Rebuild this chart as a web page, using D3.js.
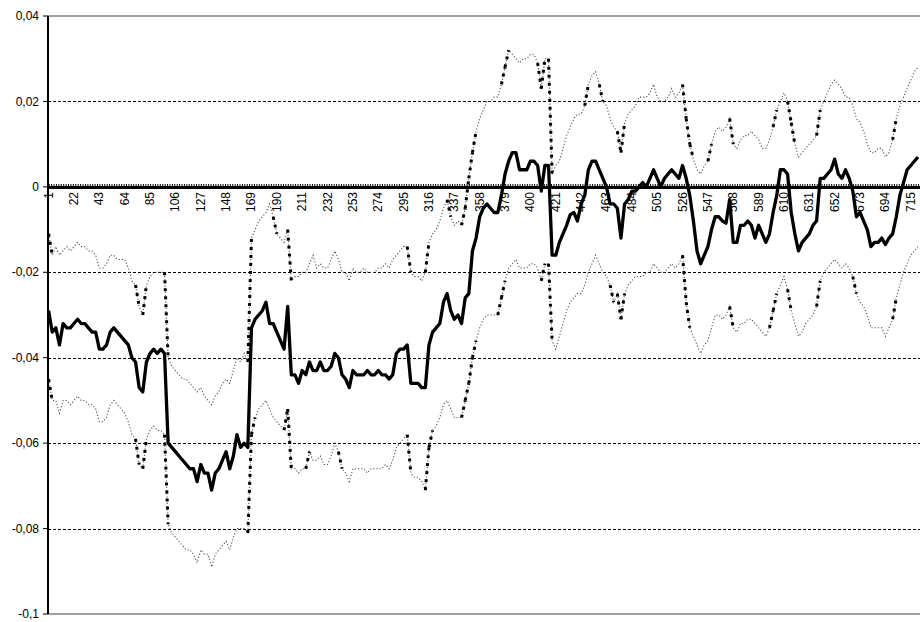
<!DOCTYPE html>
<html>
<head>
<meta charset="utf-8">
<script src="https://cdn.jsdelivr.net/npm/d3@7"></script>
<style>
  body { margin: 0; background: #fff; }
  svg { display: block; font-family: "Liberation Sans", Arial, sans-serif; }
</style>
</head>
<body>
<svg id="chart" width="920" height="622"></svg>
<script>
// Line chart: central estimate (thick) with upper/lower band (dotted).

const N_CATEGORIES = 722;
const obsIndex = d3.range(1, N_CATEGORIES, 3); // 1, 4, 7, ... 721

const mid = [
  -0.029, -0.034, -0.033, -0.037, -0.032, -0.033, -0.033, -0.032, -0.031, -0.032,
  -0.032, -0.033, -0.034, -0.034, -0.038, -0.038, -0.037, -0.034, -0.033, -0.034,
  -0.035, -0.036, -0.037, -0.040, -0.041, -0.047, -0.048, -0.041, -0.039, -0.038,
  -0.039, -0.038, -0.039, -0.060, -0.061, -0.062, -0.063, -0.064, -0.065, -0.066,
  -0.066, -0.069, -0.065, -0.067, -0.067, -0.071, -0.067, -0.066, -0.064, -0.062,
  -0.066, -0.063, -0.058, -0.061, -0.060, -0.061, -0.033, -0.031, -0.030, -0.029,
  -0.027, -0.032, -0.032, -0.034, -0.036, -0.038, -0.028, -0.044, -0.044, -0.046,
  -0.043, -0.044, -0.041, -0.043, -0.043, -0.041, -0.043, -0.043, -0.042, -0.039,
  -0.040, -0.044, -0.045, -0.047, -0.043, -0.044, -0.044, -0.044, -0.043, -0.044,
  -0.044, -0.043, -0.044, -0.044, -0.045, -0.044, -0.039, -0.038, -0.038, -0.037,
  -0.046, -0.046, -0.046, -0.047, -0.047, -0.037, -0.034, -0.033, -0.032, -0.027,
  -0.025, -0.029, -0.031, -0.030, -0.032, -0.026, -0.025, -0.015, -0.012, -0.007,
  -0.005, -0.004, -0.005, -0.006, -0.006, -0.002, 0.003, 0.006, 0.008, 0.008,
  0.004, 0.004, 0.004, 0.006, 0.006, 0.005, -0.001, 0.005, 0.005, -0.016,
  -0.016, -0.013, -0.011, -0.009, -0.0065, -0.006, -0.008, -0.004, -0.002, 0.004,
  0.006, 0.006, 0.004, 0.002, 0.000, -0.004, -0.004, -0.005, -0.012, -0.004,
  -0.003, -0.001, -0.001, 0.000, 0.001, 0.000, 0.002, 0.004, 0.002, 0.000,
  0.002, 0.003, 0.004, 0.003, 0.002, 0.005, 0.002, -0.002, -0.008, -0.015,
  -0.018, -0.016, -0.014, -0.010, -0.007, -0.007, -0.008, -0.0085, -0.003, -0.013,
  -0.013, -0.009, -0.009, -0.008, -0.009, -0.012, -0.009, -0.011, -0.013, -0.011,
  -0.006, -0.002, 0.004, 0.004, 0.003, -0.006, -0.011, -0.015, -0.013, -0.012,
  -0.011, -0.009, -0.008, 0.002, 0.002, 0.003, 0.004, 0.0065, 0.003, 0.002,
  0.004, 0.002, -0.001, -0.007, -0.006, -0.008, -0.010, -0.014, -0.013, -0.013,
  -0.012, -0.0135, -0.012, -0.011, -0.007, -0.002, 0.001, 0.004, 0.005, 0.006,
  0.007
];

const upper = [
  -0.011, -0.016, -0.014, -0.016, -0.015, -0.014, -0.015, -0.014, -0.013, -0.014,
  -0.014, -0.015, -0.015, -0.016, -0.019, -0.019, -0.018, -0.016, -0.016, -0.017,
  -0.017, -0.017, -0.019, -0.022, -0.023, -0.028, -0.030, -0.023, -0.021, -0.020,
  -0.020, -0.020, -0.020, -0.040, -0.042, -0.043, -0.044, -0.045, -0.045, -0.046,
  -0.047, -0.048, -0.047, -0.049, -0.050, -0.051, -0.049, -0.048, -0.046, -0.045,
  -0.046, -0.043, -0.040, -0.041, -0.039, -0.041, -0.012, -0.010, -0.008, -0.007,
  -0.006, -0.004, -0.007, -0.011, -0.012, -0.013, -0.010, -0.022, -0.021, -0.021,
  -0.020, -0.020, -0.018, -0.016, -0.019, -0.018, -0.019, -0.019, -0.017, -0.015,
  -0.017, -0.020, -0.020, -0.022, -0.019, -0.020, -0.020, -0.019, -0.020, -0.020,
  -0.020, -0.019, -0.019, -0.018, -0.019, -0.017, -0.016, -0.015, -0.014, -0.014,
  -0.020, -0.021, -0.021, -0.022, -0.020, -0.013, -0.011, -0.010, -0.008, -0.005,
  -0.003, -0.007, -0.009, -0.008, -0.009, -0.005, 0.002, 0.008, 0.013, 0.016,
  0.018, 0.020, 0.020, 0.021, 0.021, 0.024, 0.028, 0.032, 0.031, 0.030,
  0.029, 0.030, 0.030, 0.031, 0.031, 0.029, 0.023, 0.030, 0.030, 0.003,
  0.005, 0.006, 0.009, 0.012, 0.014, 0.016, 0.017, 0.017, 0.019, 0.024,
  0.026, 0.027, 0.024, 0.020, 0.019, 0.016, 0.014, 0.013, 0.008, 0.015,
  0.017, 0.018, 0.019, 0.021, 0.021, 0.021, 0.022, 0.024, 0.021, 0.020,
  0.020, 0.021, 0.023, 0.021, 0.022, 0.024, 0.016, 0.010, 0.0065, 0.004,
  0.003, 0.005, 0.006, 0.010, 0.013, 0.014, 0.013, 0.014, 0.016, 0.010,
  0.009, 0.011, 0.012, 0.012, 0.013, 0.012, 0.011, 0.009, 0.009, 0.011,
  0.014, 0.018, 0.020, 0.022, 0.020, 0.015, 0.010, 0.007, 0.008, 0.009,
  0.010, 0.011, 0.012, 0.018, 0.020, 0.022, 0.024, 0.025, 0.024, 0.023,
  0.021, 0.021, 0.019, 0.016, 0.015, 0.013, 0.010, 0.008, 0.008, 0.009,
  0.009, 0.007, 0.008, 0.011, 0.016, 0.019, 0.021, 0.023, 0.025, 0.027,
  0.028
];

const lower = [
  -0.045, -0.050, -0.050, -0.053, -0.050, -0.050, -0.051, -0.050, -0.049, -0.050,
  -0.050, -0.051, -0.051, -0.052, -0.055, -0.055, -0.054, -0.051, -0.050, -0.051,
  -0.052, -0.053, -0.055, -0.058, -0.059, -0.065, -0.066, -0.059, -0.057, -0.056,
  -0.057, -0.057, -0.058, -0.079, -0.081, -0.082, -0.083, -0.084, -0.085, -0.085,
  -0.086, -0.088, -0.085, -0.086, -0.086, -0.089, -0.086, -0.085, -0.084, -0.083,
  -0.085, -0.082, -0.080, -0.080, -0.080, -0.081, -0.058, -0.054, -0.052, -0.051,
  -0.050, -0.052, -0.054, -0.055, -0.056, -0.057, -0.052, -0.066, -0.066, -0.067,
  -0.066, -0.066, -0.062, -0.064, -0.064, -0.063, -0.065, -0.065, -0.063, -0.060,
  -0.062, -0.066, -0.067, -0.069, -0.066, -0.066, -0.066, -0.066, -0.067, -0.066,
  -0.066, -0.066, -0.066, -0.065, -0.066, -0.064, -0.061, -0.060, -0.059, -0.058,
  -0.067, -0.068, -0.068, -0.069, -0.071, -0.061, -0.057, -0.056, -0.054, -0.051,
  -0.050, -0.052, -0.054, -0.054, -0.054, -0.050, -0.046, -0.040, -0.036, -0.033,
  -0.031, -0.030, -0.030, -0.030, -0.030, -0.026, -0.022, -0.019, -0.018, -0.017,
  -0.019, -0.019, -0.019, -0.018, -0.018, -0.019, -0.022, -0.018, -0.018, -0.036,
  -0.038, -0.035, -0.032, -0.029, -0.027, -0.026, -0.025, -0.025, -0.023, -0.020,
  -0.018, -0.016, -0.018, -0.020, -0.021, -0.023, -0.027, -0.025, -0.031, -0.025,
  -0.023, -0.022, -0.021, -0.021, -0.021, -0.020, -0.020, -0.018, -0.019, -0.020,
  -0.020, -0.019, -0.018, -0.019, -0.018, -0.016, -0.027, -0.033, -0.035, -0.037,
  -0.039, -0.037, -0.036, -0.033, -0.030, -0.030, -0.031, -0.030, -0.028, -0.033,
  -0.034, -0.032, -0.032, -0.031, -0.031, -0.032, -0.033, -0.034, -0.035, -0.033,
  -0.029, -0.025, -0.023, -0.021, -0.024, -0.029, -0.032, -0.035, -0.034, -0.032,
  -0.031, -0.030, -0.028, -0.022, -0.020, -0.019, -0.018, -0.017, -0.018, -0.019,
  -0.018, -0.019, -0.021, -0.025, -0.027, -0.028, -0.030, -0.033, -0.033, -0.033,
  -0.033, -0.035, -0.033, -0.031, -0.026, -0.023, -0.020, -0.018, -0.016, -0.015,
  -0.014
];

const xTickLabels = [1, 22, 43, 64, 85, 106, 127, 148, 169, 190, 211, 232, 253, 274, 295,
  316, 337, 358, 379, 400, 421, 442, 463, 484, 505, 526, 547, 568, 589, 610, 631, 652,
  673, 694, 715];
const yTicks = [0.04, 0.02, 0, -0.02, -0.04, -0.06, -0.08, -0.1];
const yGrid = [0.02, -0.02, -0.04, -0.06, -0.08];

// Plot box in page pixels. The right edge is cut by the window, like the source image.
const PLOT = { left: 48, top: 16, bottom: 614, right: 920 };
const STEP = 1.2075; // px per category

const svg = d3.select("#chart");

const x = d3.scaleLinear()
  .domain([0.5, N_CATEGORIES + 0.5])
  .range([PLOT.left, PLOT.left + N_CATEGORIES * STEP]);
const y = d3.scaleLinear().domain([-0.1, 0.04]).range([PLOT.bottom, PLOT.top]);

const fmt = d3.formatLocale({ decimal: ",", thousands: ".", grouping: [3], currency: ["", ""], minus: "-" })
  .format(".2~f");

svg.append("defs").append("clipPath").attr("id", "plot-clip")
  .append("rect")
  .attr("x", PLOT.left).attr("y", PLOT.top)
  .attr("width", PLOT.right - PLOT.left).attr("height", PLOT.bottom - PLOT.top);

// dashed gridlines
svg.append("g").selectAll("line")
  .data(yGrid)
  .join("line")
  .attr("x1", PLOT.left).attr("x2", PLOT.right)
  .attr("y1", (d) => Math.round(y(d)) + 0.5).attr("y2", (d) => Math.round(y(d)) + 0.5)
  .attr("stroke", "#000").attr("stroke-width", 1)
  .attr("stroke-dasharray", "3,2");

// plot frame (top / bottom), grey
[PLOT.top, PLOT.bottom].forEach((yy) => {
  svg.append("line")
    .attr("x1", PLOT.left).attr("x2", PLOT.right)
    .attr("y1", yy).attr("y2", yy)
    .attr("stroke", "#808080").attr("stroke-width", 1.5);
});

// category tick labels, rotated, hanging under the zero line
const y0 = Math.round(y(0));
svg.append("g").selectAll("text")
  .data(xTickLabels)
  .join("text")
  .attr("transform", (d) => `translate(${x(d) + 4},${y0 + 5}) rotate(-90)`)
  .attr("text-anchor", "end")
  .attr("font-size", 12)
  .attr("fill", "#000")
  .text((d) => d);

// series
const series = obsIndex.map((i, k) => ({ i, mid: mid[k], upper: upper[k], lower: lower[k] }));
const gLines = svg.append("g").attr("clip-path", "url(#plot-clip)");

["upper", "lower"].forEach((key) => {
  const line = d3.line().x((d) => x(d.i)).y((d) => y(d[key]));
  gLines.append("path")
    .datum(series)
    .attr("fill", "none")
    .attr("stroke", "#555")
    .attr("stroke-width", 1.1)
    .attr("stroke-dasharray", "1.2,2")
    .attr("d", line);
  // steep steps of the dotted band print as heavy square dots in the source
  const steep = d3.pairs(series).filter(([a, b]) => Math.abs(y(a[key]) - y(b[key])) > 14);
  gLines.append("g").selectAll("path")
    .data(steep)
    .join("path")
    .attr("fill", "none")
    .attr("stroke", "#000")
    .attr("stroke-width", 3)
    .attr("stroke-dasharray", "3,5")
    .attr("d", (d) => line(d));
});

gLines.append("path")
  .datum(series)
  .attr("fill", "none")
  .attr("stroke", "#000")
  .attr("stroke-width", 3.3)
  .attr("stroke-linejoin", "round")
  .attr("d", d3.line().x((d) => x(d.i)).y((d) => y(d.mid)));

// zero line with small category ticks on top
svg.append("line")
  .attr("x1", PLOT.left).attr("x2", PLOT.right)
  .attr("y1", y0 + 0.5).attr("y2", y0 + 0.5)
  .attr("stroke", "#000").attr("stroke-width", 3);
svg.append("g").selectAll("line")
  .data(d3.range(1, N_CATEGORIES, 2))
  .join("line")
  .attr("x1", (d) => x(d + 0.5)).attr("x2", (d) => x(d + 0.5))
  .attr("y1", y0 - 3).attr("y2", y0)
  .attr("stroke", "#000").attr("stroke-width", 1);

// value axis on the left
const yAxis = svg.append("g");
yAxis.append("line")
  .attr("x1", PLOT.left).attr("x2", PLOT.left)
  .attr("y1", PLOT.top).attr("y2", PLOT.bottom)
  .attr("stroke", "#000").attr("stroke-width", 2);
yAxis.selectAll("line.tick")
  .data(yTicks)
  .join("line")
  .attr("class", "tick")
  .attr("x1", PLOT.left - 5).attr("x2", PLOT.left)
  .attr("y1", (d) => y(d)).attr("y2", (d) => y(d))
  .attr("stroke", "#000").attr("stroke-width", 1);
yAxis.selectAll("text")
  .data(yTicks)
  .join("text")
  .attr("x", PLOT.left - 9)
  .attr("y", (d) => y(d))
  .attr("dy", "0.35em")
  .attr("text-anchor", "end")
  .attr("font-size", 12)
  .attr("fill", "#000")
  .text((d) => fmt(d));
</script>
</body>
</html>
